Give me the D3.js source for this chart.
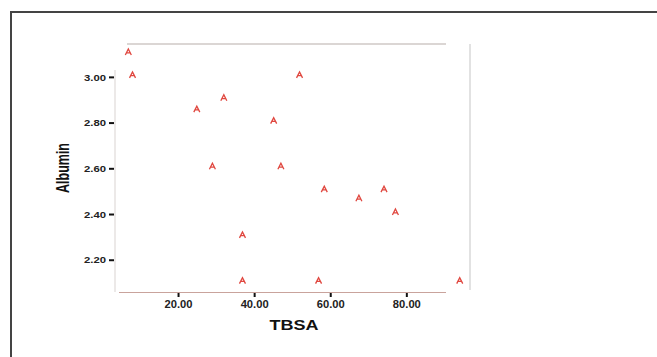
<!DOCTYPE html>
<html><head><meta charset="utf-8">
<script src="https://cdn.jsdelivr.net/npm/d3@7/dist/d3.min.js"></script>
<style>body{margin:0;background:#fff}svg{display:block}</style>
</head><body>
<svg id="c" width="657" height="357"></svg>
<script>
const tbsa    = [6.8, 7.9, 24.8, 31.9, 45.0, 51.8, 28.9, 46.9, 58.3, 67.4, 74.0, 77.0, 36.8, 36.8, 56.8, 93.9];
const albumin = [3.10, 3.00, 2.85, 2.90, 2.80, 3.00, 2.60, 2.60, 2.50, 2.46, 2.50, 2.40, 2.30, 2.10, 2.10, 2.10];
const xTicks = [20, 40, 60, 80];
const yTicks = [2.2, 2.4, 2.6, 2.8, 3.0];
const xTitle = "TBSA", yTitle = "Albumin";

const svg = d3.select("#c");
// outer frame
svg.append("path").attr("d","M11,400 L11,12 L700,12").attr("fill","none").attr("stroke","#444").attr("stroke-width",2);

const x = d3.scaleLinear().domain([3.3, 96.6]).range([115, 470]);
const y = d3.scaleLinear().domain([2.061, 3.146]).range([292, 44]);

// frame lines
svg.append("line").attr("x1",127).attr("x2",446).attr("y1",44).attr("y2",44).attr("stroke","#cfc8c6").attr("stroke-width",1.5);
svg.append("line").attr("x1",470).attr("x2",470).attr("y1",44).attr("y2",290).attr("stroke","#e2e2e2").attr("stroke-width",2);
svg.append("line").attr("x1",115).attr("x2",115).attr("y1",70).attr("y2",292).attr("stroke","#d9d3d1").attr("stroke-width",1);
svg.append("line").attr("x1",119).attr("x2",446).attr("y1",292.5).attr("y2",292.5).attr("stroke","#c9a39c").attr("stroke-width",1);

// y axis ticks
const yg = svg.append("g");
yTicks.forEach(v=>{
  yg.append("line").attr("x1",109).attr("x2",114).attr("y1",y(v)).attr("y2",y(v)).attr("stroke","#111").attr("stroke-width",2);
  yg.append("text").attr("x",106).attr("y",y(v)).attr("dy","0.35em").attr("text-anchor","end")
    .attr("font-family","Arial, Liberation Sans, sans-serif").attr("font-weight","bold").attr("font-size",9)
    .attr("fill","#222").attr("textLength",22).attr("lengthAdjust","spacingAndGlyphs").text(v.toFixed(2));
});
// x axis ticks
const xg = svg.append("g");
xTicks.forEach(v=>{
  xg.append("line").attr("x1",x(v)).attr("x2",x(v)).attr("y1",293).attr("y2",297).attr("stroke","#111").attr("stroke-width",2);
  xg.append("text").attr("x",x(v)).attr("y",307.5).attr("text-anchor","middle")
    .attr("font-family","Arial, Liberation Sans, sans-serif").attr("font-weight","bold").attr("font-size",10)
    .attr("fill","#222").attr("textLength",28).attr("lengthAdjust","spacingAndGlyphs").text(v.toFixed(2));
});

// titles
svg.append("text").attr("x",294).attr("y",330).attr("text-anchor","middle")
  .attr("font-family","Arial, Liberation Sans, sans-serif").attr("font-weight","bold").attr("font-size",15)
  .attr("fill","#111").attr("textLength",49).attr("lengthAdjust","spacingAndGlyphs").text(xTitle);
svg.append("text").attr("transform","translate(69,168) rotate(-90)").attr("text-anchor","middle")
  .attr("font-family","Arial, Liberation Sans, sans-serif").attr("font-weight","bold").attr("font-size",19)
  .attr("fill","#111").attr("textLength",50).attr("lengthAdjust","spacingAndGlyphs").text(yTitle);

// markers
const data = tbsa.map((t,i)=>({t, a: albumin[i]}));
svg.append("g").selectAll("path").data(data).join("path")
  .attr("transform", d=>`translate(${x(d.t)},${y(d.a)-2.5})`)
  .attr("d","M-3,3 L0,-3 L3,3 M-1.6,0.8 L1.6,0.8")
  .attr("fill","none").attr("stroke","#e0473f").attr("stroke-width",1.3);
</script>
</body></html>
